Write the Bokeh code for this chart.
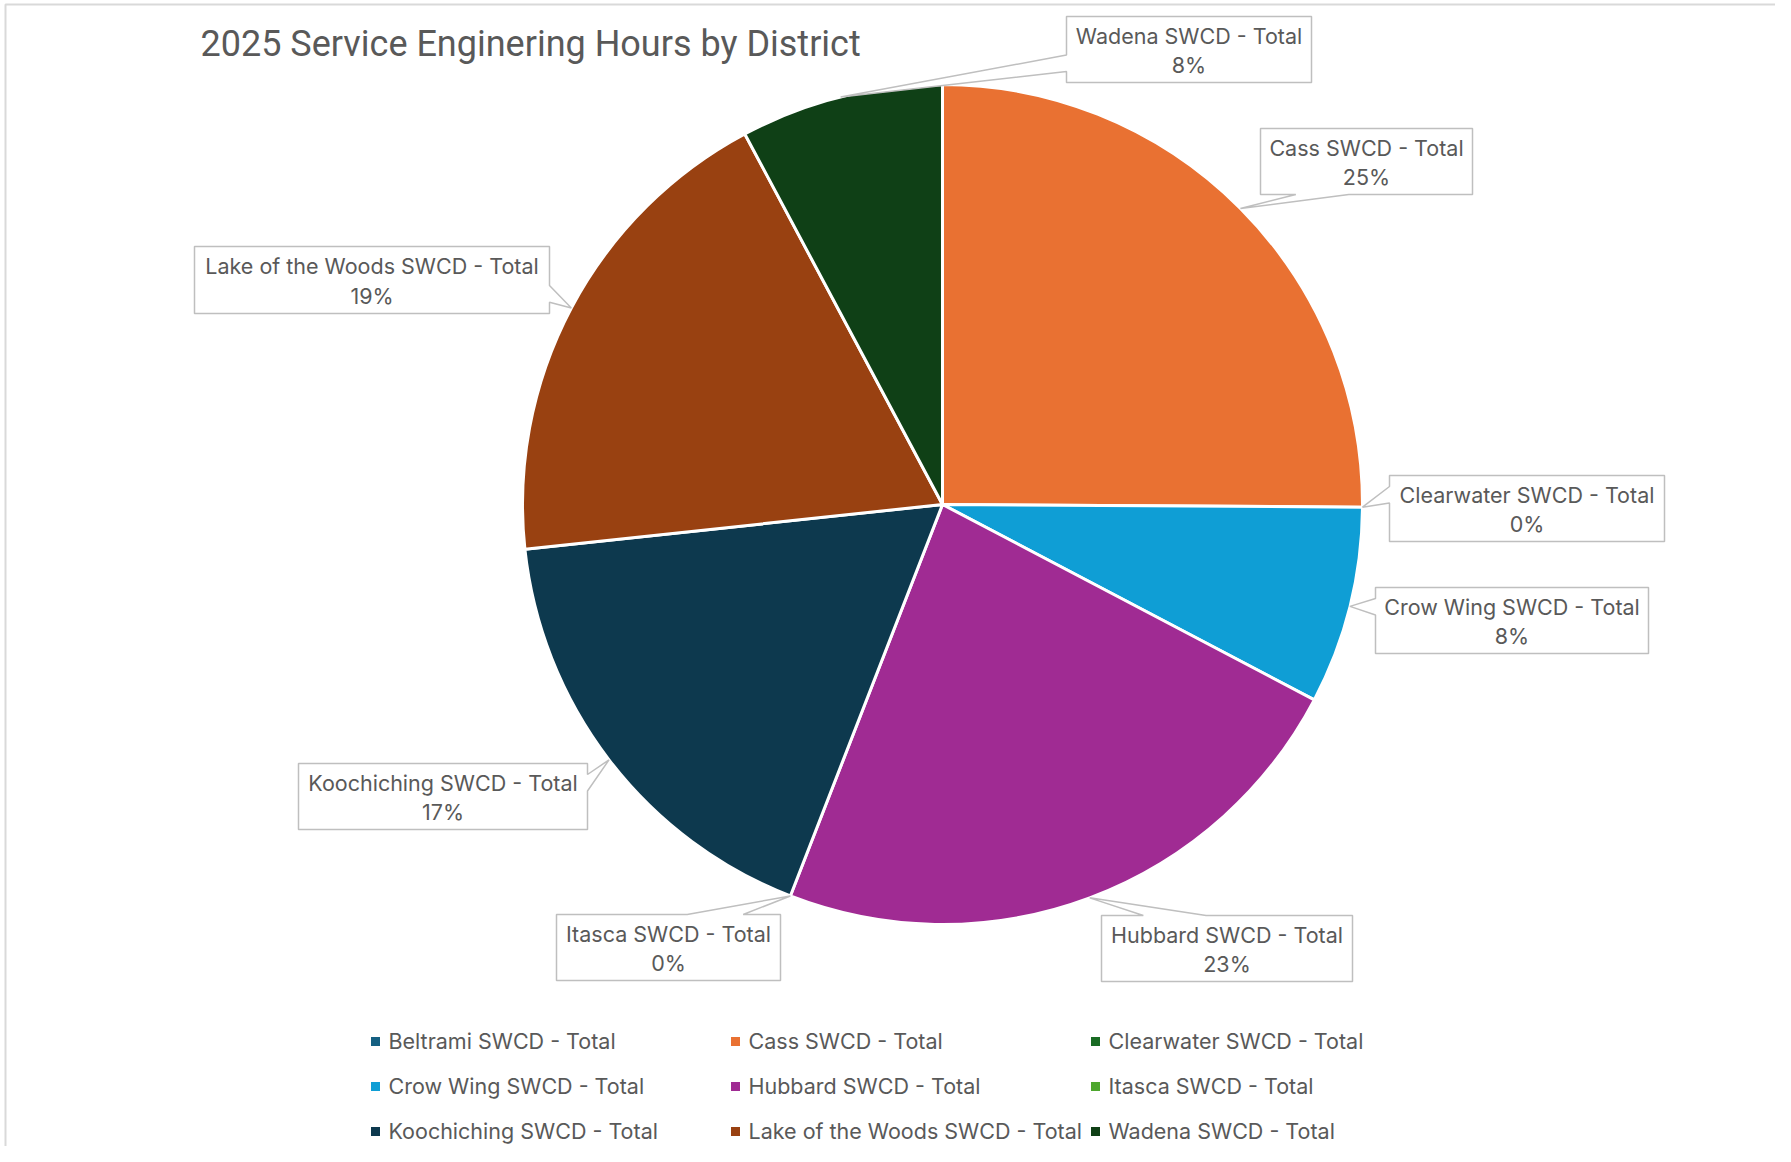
import math
from bokeh.plotting import figure
from bokeh.models import ColumnDataSource, Range1d
from bokeh.core.properties import value
from bokeh.embed import file_html
from bokeh.resources import INLINE

# ---------------- data ----------------
title_text = "2025 Service Enginering Hours by District"
districts = [
    "Beltrami SWCD - Total",
    "Cass SWCD - Total",
    "Clearwater SWCD - Total",
    "Crow Wing SWCD - Total",
    "Hubbard SWCD - Total",
    "Itasca SWCD - Total",
    "Koochiching SWCD - Total",
    "Lake of the Woods SWCD - Total",
    "Wadena SWCD - Total",
]
hours = [0, 125.5, 0, 38, 116, 0, 87, 94.5, 39]
colors = ["#156082", "#E97132", "#196B24", "#0F9ED5", "#A02B93",
          "#4EA72E", "#0D394E", "#994111", "#0F4016"]

# ---------------- layout (pixel coords, y down) ----------------
W, H = 1775, 1146
CX, CY, R = 942, 504, 420
# callout boxes: x0, y0, x1, y1 (Beltrami has no data label)
label_boxes = {
    "Cass SWCD - Total": (1260, 128, 1472, 194),
    "Clearwater SWCD - Total": (1389, 475, 1664, 541),
    "Crow Wing SWCD - Total": (1375, 587, 1648, 653),
    "Hubbard SWCD - Total": (1101, 915, 1352, 981),
    "Itasca SWCD - Total": (556, 914, 780, 980),
    "Koochiching SWCD - Total": (298, 763, 587, 829),
    "Lake of the Woods SWCD - Total": (194, 246, 549, 313),
    "Wadena SWCD - Total": (1066, 16, 1311, 82),
}
TEXT_COLOR = "#595959"
FONT = "Inter"
FS = 21.5


def X(x):
    return x


def Y(y):
    return H - y


p = figure(width=W, height=H, output_backend="svg", toolbar_location=None,
           x_range=Range1d(0, W), y_range=Range1d(0, H), min_border=0)
p.axis.visible = False
p.grid.visible = False
p.outline_line_color = None
p.background_fill_color = "white"
p.border_fill_color = "white"

# chart frame (left & top edges visible in the reference)
p.line([X(5), X(5), W], [0, Y(4), Y(4)], line_color="#D9D9D9", line_width=2)

# ---------------- pie ----------------
total = sum(hours)
fracs = [h / total for h in hours]
starts, ends, mids = [], [], []
acc = 0.0
for f in fracs:
    starts.append(acc)
    acc += f
    ends.append(acc)
    mids.append(starts[-1] + f / 2)

nz = [i for i, h in enumerate(hours) if h > 0]
src = ColumnDataSource(dict(
    name=[districts[i] for i in nz],
    start=[math.pi / 2 - 2 * math.pi * starts[i] for i in nz],
    end=[math.pi / 2 - 2 * math.pi * ends[i] for i in nz],
    color=[colors[i] for i in nz],
))
p.wedge(x=X(CX), y=Y(CY), radius=R, start_angle="start", end_angle="end",
        direction="clock", fill_color="color", line_color="white",
        line_width=3, source=src)

# ---------------- callouts ----------------
for i, name in enumerate(districts):
    if name not in label_boxes:
        continue
    x0, y0, x1, y1 = label_boxes[name]
    th = 2 * math.pi * mids[i]
    tx = CX + R * math.sin(th)
    ty = CY - R * math.cos(th)
    w, h = x1 - x0, y1 - y0
    bcx, bcy = (x0 + x1) / 2, (y0 + y1) / 2
    nx, ny = (tx - bcx) / w, (ty - bcy) / h
    if abs(nx) > abs(ny):
        side = "left" if nx < 0 else "right"
        f1, f2 = (7 / 12, 10 / 12) if ny > 0 else (2 / 12, 5 / 12)
    else:
        side = "top" if ny < 0 else "bottom"
        f1, f2 = (7 / 12, 10 / 12) if nx > 0 else (2 / 12, 5 / 12)
    pts = [(x0, y0)]
    if side == "top":
        pts += [(x0 + w * f1, y0), (tx, ty), (x0 + w * f2, y0)]
    pts += [(x1, y0)]
    if side == "right":
        pts += [(x1, y0 + h * f1), (tx, ty), (x1, y0 + h * f2)]
    pts += [(x1, y1)]
    if side == "bottom":
        pts += [(x0 + w * f2, y1), (tx, ty), (x0 + w * f1, y1)]
    pts += [(x0, y1)]
    if side == "left":
        pts += [(x0, y0 + h * f2), (tx, ty), (x0, y0 + h * f1)]
    p.patch([X(a) for a, b in pts], [Y(b) for a, b in pts],
            fill_color="white", line_color="#BFBFBF", line_width=1.5)
    pct = f"{round(fracs[i] * 100)}%"
    p.text(x=[X(bcx)], y=[Y(bcy - 14)], text=[name], text_align="center",
           text_baseline="alphabetic", text_color=TEXT_COLOR,
           text_font=value(FONT), text_font_size=value(f"{FS}px"))
    p.text(x=[X(bcx)], y=[Y(bcy + 15.5)], text=[pct], text_align="center",
           text_baseline="alphabetic", text_color=TEXT_COLOR,
           text_font=value(FONT), text_font_size=value(f"{FS}px"))

# ---------------- title ----------------
p.text(x=[X(200)], y=[Y(43)], text=[title_text], text_align="left",
       text_baseline="alphabetic", text_color=TEXT_COLOR,
       text_font=value("Roboto"), text_font_size=value("36px"))

# ---------------- legend ----------------
col_x = [375, 735, 1095]
row_y = [1041, 1086, 1131]
lx, ly = [], []
for k in range(len(districts)):
    lx.append(X(col_x[k % 3]))
    ly.append(Y(row_y[k // 3]))
leg = ColumnDataSource(dict(x=lx, y=ly, color=colors, name=districts,
                            tx=[v + 13 for v in lx], ty=[v + 1 for v in ly]))
p.scatter(x="x", y="y", marker="square", size=9, fill_color="color",
          line_color=None, source=leg)
p.text(x="tx", y="ty", text="name", text_align="left",
       text_baseline="alphabetic", text_color=TEXT_COLOR,
       text_font=value(FONT), text_font_size=value(f"{FS}px"), source=leg)

open("out.html", "w").write(file_html(p, INLINE))
